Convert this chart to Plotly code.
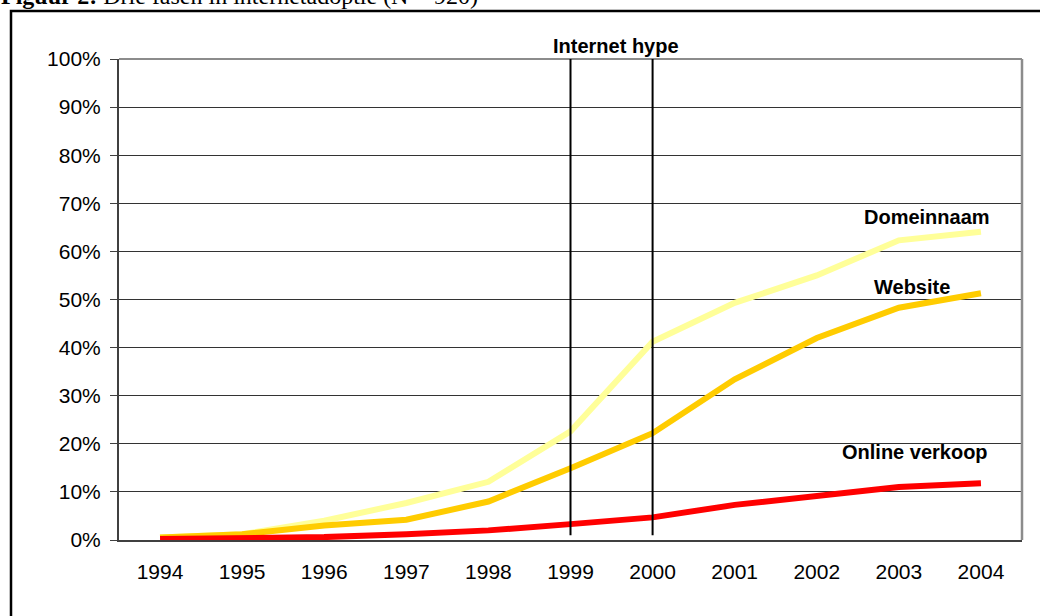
import plotly.graph_objects as go

years = ["1994", "1995", "1996", "1997", "1998", "1999", "2000", "2001", "2002", "2003", "2004"]
domeinnaam = [0.5, 1.2, 4.0, 7.7, 12.1, 22.6, 41.2, 49.3, 55.0, 62.3, 64.1]
website = [0.5, 1.2, 3.0, 4.2, 8.0, 14.9, 22.2, 33.4, 42.0, 48.3, 51.3]
online_verkoop = [0.2, 0.4, 0.6, 1.2, 2.0, 3.3, 4.7, 7.3, 9.3, 11.0, 11.8]
y_ticks = [0, 10, 20, 30, 40, 50, 60, 70, 80, 90, 100]
hype_years = ["1999", "2000"]

SANS = "Liberation Sans, Arial, sans-serif"
SERIF = "Liberation Serif, Times New Roman, serif"

W, H = 1040, 616
ML, MR, MT, MB = 119, 18, 59, 76
PW = W - ML - MR
PH = H - MT - MB


def px_x(x):
    return (x - ML) / PW


def px_y(y):
    return (H - MB - y) / PH


fig = go.Figure()
series = [
    ("Domeinnaam", domeinnaam, "#FFFF99"),
    ("Website", website, "#FFCC00"),
    ("Online verkoop", online_verkoop, "#FF0000"),
]
for name, vals, col in series:
    fig.add_trace(go.Scatter(x=years, y=vals, mode="lines", name=name,
                             line=dict(color=col, width=6), showlegend=False,
                             cliponaxis=False))

shapes = []
# outer frame of the figure box
shapes.append(dict(type="rect", xref="paper", yref="paper",
                   x0=px_x(11), x1=px_x(1100), y0=px_y(700), y1=px_y(11),
                   line=dict(color="black", width=2.5), layer="above"))
# plot-area frame (top and right, gray)
shapes.append(dict(type="line", xref="paper", yref="paper", x0=0, x1=1, y0=1, y1=1,
                   line=dict(color="#8c8c8c", width=2), layer="above"))
shapes.append(dict(type="line", xref="paper", yref="paper", x0=1, x1=1, y0=0, y1=1,
                   line=dict(color="#8c8c8c", width=2.5), layer="above"))
# internet hype vertical lines
for yr in hype_years:
    xi = years.index(yr)
    shapes.append(dict(type="line", xref="x", yref="y", x0=xi, x1=xi, y0=1, y1=100,
                       line=dict(color="black", width=2), layer="above"))

bold_label = dict(family=SANS, size=20, color="black", weight="bold")
annotations = [
    dict(text="Internet hype", x=5.56, y=px_y(46), xref="x", yref="paper", showarrow=False,
         font=bold_label, xanchor="center", yanchor="middle"),
    dict(text="Domeinnaam", x=9.34, y=67.2, xref="x", yref="y", showarrow=False,
         font=bold_label, xanchor="center", yanchor="middle"),
    dict(text="Website", x=9.16, y=52.6, xref="x", yref="y", showarrow=False,
         font=bold_label, xanchor="center", yanchor="middle"),
    dict(text="Online verkoop", x=9.2, y=18.3, xref="x", yref="y", showarrow=False,
         font=bold_label, xanchor="center", yanchor="middle"),
    dict(text="<b>Figuur 2:</b> Drie fasen in internetadoptie (N = 920)",
         x=px_x(-1), y=px_y(11), xref="paper", yref="paper", showarrow=False,
         font=dict(family=SERIF, size=24, color="black"), xanchor="left", yanchor="bottom"),
]

fig.update_layout(
    width=W, height=H,
    margin=dict(l=ML, r=MR, t=MT, b=MB, pad=0),
    paper_bgcolor="white", plot_bgcolor="white",
    font=dict(family=SANS, color="black"),
    shapes=shapes, annotations=annotations,
    xaxis=dict(type="category", range=[-0.5, 10.5], showgrid=False, ticks="",
               tickfont=dict(family=SANS, size=21, color="black"),
               showline=True, linecolor="#404040", linewidth=2,
               ticklabelstandoff=12, zeroline=False, fixedrange=True),
    yaxis=dict(range=[0, 100], tickvals=y_ticks, ticktext=[f"{v}%" for v in y_ticks],
               showgrid=True, gridcolor="#333333", gridwidth=1,
               ticks="outside", ticklen=7, tickcolor="#404040", tickwidth=1,
               tickfont=dict(family=SANS, size=21, color="black"),
               showline=True, linecolor="#404040", linewidth=2,
               ticklabelstandoff=5, zeroline=False, fixedrange=True),
)

fig.write_html("out.html")
